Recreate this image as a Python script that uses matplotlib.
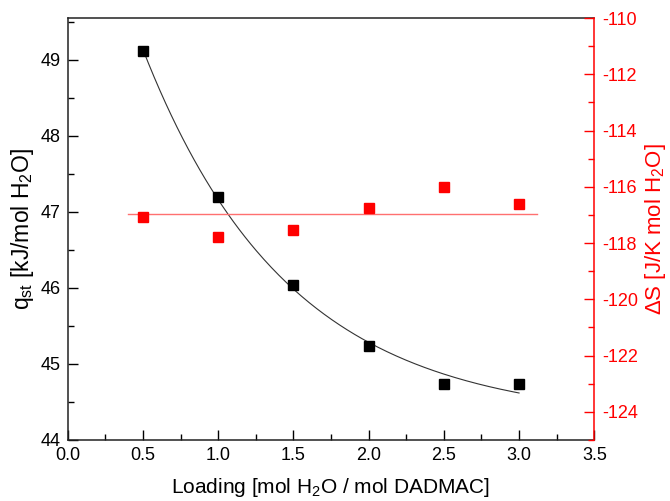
import numpy as np
import matplotlib
matplotlib.use('Agg')
import matplotlib.pyplot as plt
from matplotlib.ticker import MultipleLocator, FormatStrFormatter

plt.rcParams['font.family'] = ['Liberation Sans', 'DejaVu Sans']
plt.rcParams['mathtext.fontset'] = 'custom'
plt.rcParams['mathtext.rm'] = 'Liberation Sans'
plt.rcParams['axes.unicode_minus'] = False

# Loading [mol H2O / mol DADMAC]
loading = [0.5, 1.0, 1.5, 2.0, 2.5, 3.0]
# isosteric heat q_st [kJ/mol H2O]
q_st = [49.12, 47.19, 46.04, 45.23, 44.73, 44.74]
# entropy dS [J/K mol H2O]
delta_s = [-117.07, -117.78, -117.54, -116.75, -116.0, -116.6]

RED = '#ff0000'


def exp_decay_fit(x, y):
    # y = y0 + A*exp(-x/t): scan t, linear least squares for y0, A
    x = np.asarray(x)
    y = np.asarray(y)
    best = None
    for t in np.linspace(0.1, 5.0, 2000):
        M = np.column_stack([np.ones_like(x), np.exp(-x / t)])
        coef, *_ = np.linalg.lstsq(M, y, rcond=None)
        err = np.sum((M @ coef - y) ** 2)
        if best is None or err < best[0]:
            best = (err, coef, t)
    _, (y0, a), t = best
    return lambda xx: y0 + a * np.exp(-xx / t)


fig = plt.figure(figsize=(6.7, 5.01), dpi=100)
ax = fig.add_axes([0.101, 0.122, 0.786, 0.842])
ax2 = ax.twinx()

# exponential fit on q_st
f = exp_decay_fit(loading, q_st)
xs = np.linspace(min(loading), max(loading), 200)
ax.plot(xs, f(xs), color='#333333', lw=0.8, zorder=2)
ax.plot(loading, q_st, 's', color='black', ms=6.5, zorder=3)

# mean line for dS
ds_mean = np.mean(delta_s)
ax2.plot([0.4, 3.12], [ds_mean, ds_mean], color='#ff7070', lw=1.0, zorder=2)
ax2.plot(loading, delta_s, 's', color=RED, ms=6.5, zorder=3)

ax.set_xlim(0, 3.5)
ax.set_ylim(44, 49.55)
ax2.set_ylim(-125, -110)

ax.xaxis.set_major_locator(MultipleLocator(0.5))
ax.xaxis.set_minor_locator(MultipleLocator(0.25))
ax.yaxis.set_major_locator(MultipleLocator(1))
ax.yaxis.set_minor_locator(MultipleLocator(0.5))
ax2.yaxis.set_major_locator(MultipleLocator(2))
ax2.yaxis.set_minor_locator(MultipleLocator(1))
ax.xaxis.set_major_formatter(FormatStrFormatter('%.1f'))

ax.tick_params(axis='both', which='major', direction='in', length=7, width=1,
               labelsize=13, pad=5, top=False)
ax.tick_params(axis='both', which='minor', direction='in', length=4, width=1, top=False)
ax2.tick_params(axis='y', which='major', direction='in', length=7, width=1,
                labelsize=13, pad=6, colors=RED)
ax2.tick_params(axis='y', which='minor', direction='in', length=4, width=1, colors=RED)

for s in ['left', 'bottom', 'top']:
    ax.spines[s].set_linewidth(1.1)
    ax.spines[s].set_color('#222222')
ax.spines['right'].set_visible(False)
for s in ['left', 'bottom', 'top']:
    ax2.spines[s].set_visible(False)
ax2.spines['right'].set_color(RED)
ax2.spines['right'].set_linewidth(1.1)

ax.set_xlabel(r'Loading [mol H$_2$O / mol DADMAC]', fontsize=15, labelpad=9)
ax.set_ylabel(r'q$_{\mathrm{st}}$ [kJ/mol H$_2$O]', fontsize=16.5, labelpad=3)
ax2.set_ylabel(r'$\Delta$S [J/K mol H$_2$O]', fontsize=16, color=RED, labelpad=3)

fig.savefig('out.png', dpi=100)
